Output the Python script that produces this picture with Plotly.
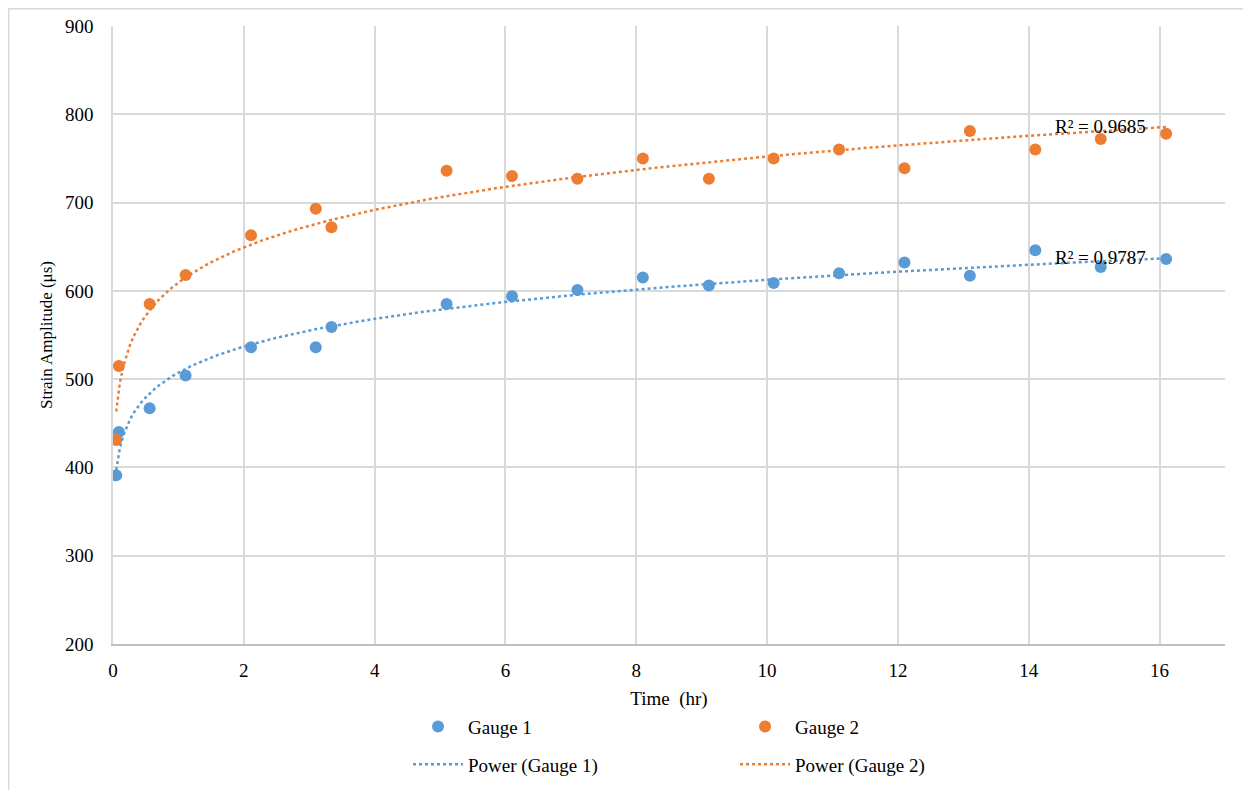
import numpy as np
import plotly.graph_objects as go

time_hr = [0.05, 0.09, 0.56, 1.11, 2.11, 3.10, 3.34, 5.10, 6.10, 7.10, 8.10, 9.11,
           10.10, 11.10, 12.10, 13.10, 14.10, 15.10, 16.10]
gauge1 = [391, 440, 467, 504, 536, 536, 559, 585, 594, 601, 615, 606,
          609, 620, 632, 617, 646, 627, 636]
gauge2 = [431, 515, 585, 618, 663, 693, 672, 736, 730, 727, 750, 727,
          750, 760, 739, 781, 760, 772, 778]
r2_labels = ["R² = 0.9787", "R² = 0.9685"]

BLUE = "#5B9BD5"
ORANGE = "#ED7D31"
FONT = "Liberation Serif"


def power_fit(x, y):
    lx, ly = np.log(np.array(x)), np.log(np.array(y))
    b, lna = np.polyfit(lx, ly, 1)
    xs = np.linspace(min(x), max(x), 300)
    return xs, np.exp(lna) * xs ** b


fig = go.Figure()
fig.add_trace(go.Scatter(x=time_hr, y=gauge1, mode="markers", name="Gauge 1",
                         marker=dict(color=BLUE, size=12), legend="legend",
                         legendgroup="a"))
fig.add_trace(go.Scatter(x=time_hr, y=gauge2, mode="markers", name="Gauge 2",
                         marker=dict(color=ORANGE, size=12), legend="legend2",
                         legendgroup="c"))
xs1, ys1 = power_fit(time_hr, gauge1)
xs2, ys2 = power_fit(time_hr, gauge2)
fig.add_trace(go.Scatter(x=xs1, y=ys1, mode="lines", name="Power (Gauge 1)",
                         line=dict(color=BLUE, width=2.5, dash="dot"), legend="legend",
                         legendgroup="b"))
fig.add_trace(go.Scatter(x=xs2, y=ys2, mode="lines", name="Power (Gauge 2)",
                         line=dict(color=ORANGE, width=2.5, dash="dot"), legend="legend2",
                         legendgroup="d"))

fig.add_annotation(x=15.1, y=638, text=r2_labels[0], showarrow=False,
                   font=dict(family=FONT, size=19, color="#000"))
fig.add_annotation(x=15.1, y=786, text=r2_labels[1], showarrow=False,
                   font=dict(family=FONT, size=19, color="#000"))

# chart border
fig.add_shape(type="rect", xref="paper", yref="paper", x0=-0.0938, x1=1.2,
              y0=-0.5, y1=1.028, line=dict(color="#d9d9d9", width=1.5),
              fillcolor="rgba(0,0,0,0)", layer="below")

legend_common = dict(orientation="v", yanchor="top", xanchor="left",
                     font=dict(family=FONT, size=19, color="#000"),
                     tracegroupgap=10, itemwidth=50, bgcolor="rgba(0,0,0,0)")
fig.update_layout(
    width=1251, height=790,
    margin=dict(l=105, r=34, t=18, b=154, autoexpand=False),
    paper_bgcolor="white", plot_bgcolor="white",
    font=dict(family=FONT, size=19, color="#000"),
    legend=dict(x=0.2653, y=-0.103, **legend_common),
    legend2=dict(x=0.5594, y=-0.103, **legend_common),
    xaxis=dict(range=[0, 17], dtick=2, tick0=0, showgrid=True, gridcolor="#d9d9d9",
               gridwidth=1.5, showline=True, linecolor="#bfbfbf", linewidth=1.5,
               zeroline=False, ticks="", ticklabelstandoff=8, automargin=False,
               tickfont=dict(family=FONT, size=19),
               title=dict(text="Time  (hr)", standoff=12,
                          font=dict(family=FONT, size=19))),
    yaxis=dict(range=[200, 900], dtick=100, showgrid=True, gridcolor="#d9d9d9",
               gridwidth=1.5, showline=True, linecolor="#d9d9d9", linewidth=1.5,
               zeroline=False, ticks="", ticklabelstandoff=14, automargin=False,
               tickfont=dict(family=FONT, size=19),
               title=dict(text="Strain Amplitude (μs)", standoff=8,
                          font=dict(family=FONT, size=17))),
)

fig.write_html("out.html")
